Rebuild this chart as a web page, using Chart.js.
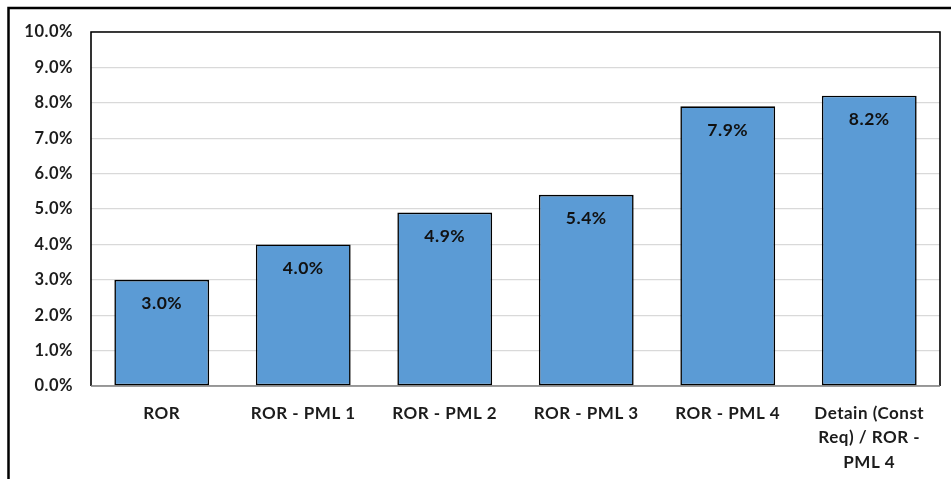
<!DOCTYPE html>
<html>
<head>
<meta charset="utf-8">
<script src="https://cdn.jsdelivr.net/npm/chart.js@4"></script>
<style>
  html, body { margin: 0; padding: 0; background: #ffffff; }
  #wrap { width: 951px; height: 479px; position: relative; }
</style>
</head>
<body>
<div id="wrap"><canvas id="c" width="951" height="479"></canvas></div>
<script>
// Categories (multi-line where the label wraps)
const categories = [
  'ROR',
  'ROR - PML 1',
  'ROR - PML 2',
  'ROR - PML 3',
  'ROR - PML 4',
  ['Detain (Const', 'Req) / ROR -', 'PML 4']
];
// Rate per scenario, in percent
const rates = [3.0, 4.0, 4.9, 5.4, 7.9, 8.2];
// Y axis range and step, in percent
const yMin = 0;
const yMax = 10;
const yStep = 1;

const FONT = 'Lato, "Open Sans", "Liberation Sans", sans-serif';
const TEXT = '#1c1c1c';
const SPACING = '0.5px';

// Slightly looser letter spacing for every piece of text
const spacingPlugin = {
  id: 'spacing',
  beforeLayout(chart) { chart.ctx.letterSpacing = SPACING; },
  beforeDraw(chart) { chart.ctx.letterSpacing = SPACING; }
};

// Outer frame of the figure and the box around the plot area
const framePlugin = {
  id: 'frames',
  afterDatasetsDraw(chart) {
    const { ctx, chartArea: a } = chart;
    ctx.save();
    ctx.strokeStyle = '#000';
    ctx.lineWidth = 1.6;
    ctx.beginPath();
    ctx.moveTo(a.left, a.bottom);
    ctx.lineTo(a.left, a.top);
    ctx.lineTo(a.right, a.top);
    ctx.lineTo(a.right, a.bottom);
    ctx.stroke();
    ctx.strokeStyle = '#7f7f7f';
    ctx.beginPath();
    ctx.moveTo(a.left, a.bottom);
    ctx.lineTo(a.right, a.bottom);
    ctx.stroke();
    // figure frame, extending past the right and bottom edges
    ctx.strokeStyle = '#000';
    ctx.lineWidth = 2.5;
    ctx.strokeRect(8.5, 8, 960, 500);
    ctx.restore();
  }
};

// Value labels inside the top of each bar
const valueLabels = {
  id: 'valueLabels',
  afterDatasetsDraw(chart) {
    const { ctx } = chart;
    const meta = chart.getDatasetMeta(0);
    ctx.save();
    ctx.letterSpacing = SPACING;
    ctx.fillStyle = '#111';
    ctx.font = 'bold 17.5px ' + FONT;
    ctx.textAlign = 'center';
    ctx.textBaseline = 'middle';
    meta.data.forEach((bar, i) => {
      ctx.fillText(rates[i].toFixed(1) + '%', bar.x, bar.y + 24);
    });
    ctx.restore();
  }
};

new Chart(document.getElementById('c'), {
  type: 'bar',
  data: {
    labels: categories,
    datasets: [{
      data: rates,
      backgroundColor: '#5b9bd5',
      borderColor: '#000000',
      borderWidth: 1.6,
      borderSkipped: false,
      categoryPercentage: 1.0,
      barPercentage: 0.67
    }]
  },
  options: {
    responsive: false,
    animation: false,
    layout: { padding: { left: 10, top: 32, right: 11, bottom: 2 } },
    plugins: {
      legend: { display: false },
      tooltip: { enabled: false }
    },
    scales: {
      x: {
        grid: { display: false, drawTicks: false },
        border: { display: false },
        ticks: {
          color: TEXT,
          font: { family: FONT, size: 17, weight: 'bold', lineHeight: 1.45 },
          padding: 15,
          maxRotation: 0,
          autoSkip: false
        },
        afterFit(s) { s.height = 479 - 386 - 2; }
      },
      y: {
        min: yMin,
        max: yMax,
        grid: { color: '#d9d9d9', lineWidth: 1.2, drawTicks: false },
        border: { display: false },
        ticks: {
          stepSize: yStep,
          color: TEXT,
          font: { family: FONT, size: 16.5, weight: 'bold' },
          padding: 18,
          callback: v => v.toFixed(1) + '%'
        },
        afterFit(s) { s.width = 91 - 10; }
      }
    }
  },
  plugins: [spacingPlugin, framePlugin, valueLabels]
});
</script>
</body>
</html>
